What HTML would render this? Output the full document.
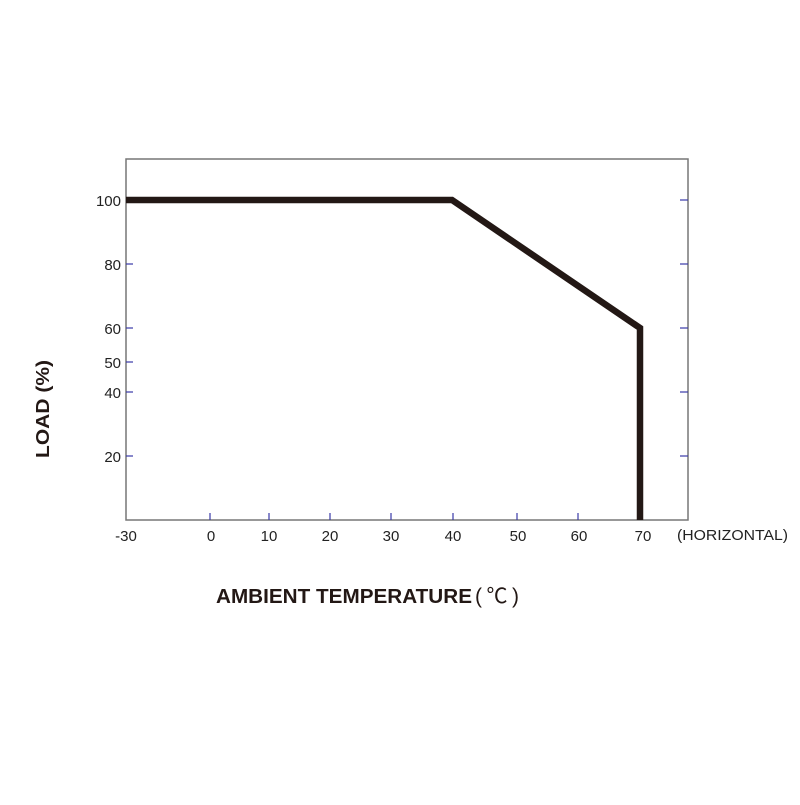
<!DOCTYPE html>
<html><head><meta charset="utf-8"><style>html,body{margin:0;padding:0;background:#fff}</style></head>
<body>
<svg width="800" height="800" xmlns="http://www.w3.org/2000/svg" font-family="Liberation Sans, sans-serif">
<rect x="126" y="159" width="562" height="361" fill="none" stroke="#777" stroke-width="1.5"/>
<g stroke="#3a3aa8" stroke-width="1.2">
<line x1="126" y1="264" x2="133" y2="264"/>
<line x1="126" y1="328" x2="133" y2="328"/>
<line x1="126" y1="362" x2="133" y2="362"/>
<line x1="126" y1="392" x2="133" y2="392"/>
<line x1="126" y1="456" x2="133" y2="456"/>
<line x1="680" y1="200" x2="688" y2="200"/>
<line x1="680" y1="264" x2="688" y2="264"/>
<line x1="680" y1="328" x2="688" y2="328"/>
<line x1="680" y1="392" x2="688" y2="392"/>
<line x1="680" y1="456" x2="688" y2="456"/>
<line x1="210" y1="513" x2="210" y2="520"/>
<line x1="269" y1="513" x2="269" y2="520"/>
<line x1="330" y1="513" x2="330" y2="520"/>
<line x1="391" y1="513" x2="391" y2="520"/>
<line x1="453" y1="513" x2="453" y2="520"/>
<line x1="517" y1="513" x2="517" y2="520"/>
<line x1="578" y1="513" x2="578" y2="520"/>
</g>
<polyline points="126,200 452,200 640,328 640,520" fill="none" stroke="#231815" stroke-width="6.5"/>
<g font-size="15" fill="#222" text-anchor="end">
<text x="121" y="206">100</text>
<text x="121" y="270">80</text>
<text x="121" y="334">60</text>
<text x="121" y="368">50</text>
<text x="121" y="398">40</text>
<text x="121" y="462">20</text>
</g>
<g font-size="15" fill="#222" text-anchor="middle">
<text x="126" y="541">-30</text>
<text x="211" y="541">0</text>
<text x="269" y="541">10</text>
<text x="330" y="541">20</text>
<text x="391" y="541">30</text>
<text x="453" y="541">40</text>
<text x="518" y="541">50</text>
<text x="579" y="541">60</text>
<text x="643" y="541">70</text>
</g>
<text x="677" y="540" font-size="15" fill="#222" textLength="111" lengthAdjust="spacingAndGlyphs">(HORIZONTAL)</text>
<text x="216" y="603" font-size="20" font-weight="bold" fill="#231815" textLength="256" lengthAdjust="spacingAndGlyphs">AMBIENT TEMPERATURE</text>
<text x="475" y="603" font-size="21" fill="#231815" font-family="Liberation Sans, Noto Sans CJK SC, sans-serif" textLength="44" lengthAdjust="spacing">(℃)</text>
<text transform="translate(49,458) rotate(-90)" font-size="18" font-weight="bold" fill="#231815" textLength="98" lengthAdjust="spacingAndGlyphs">LOAD (%)</text>
</svg>
</body></html>
